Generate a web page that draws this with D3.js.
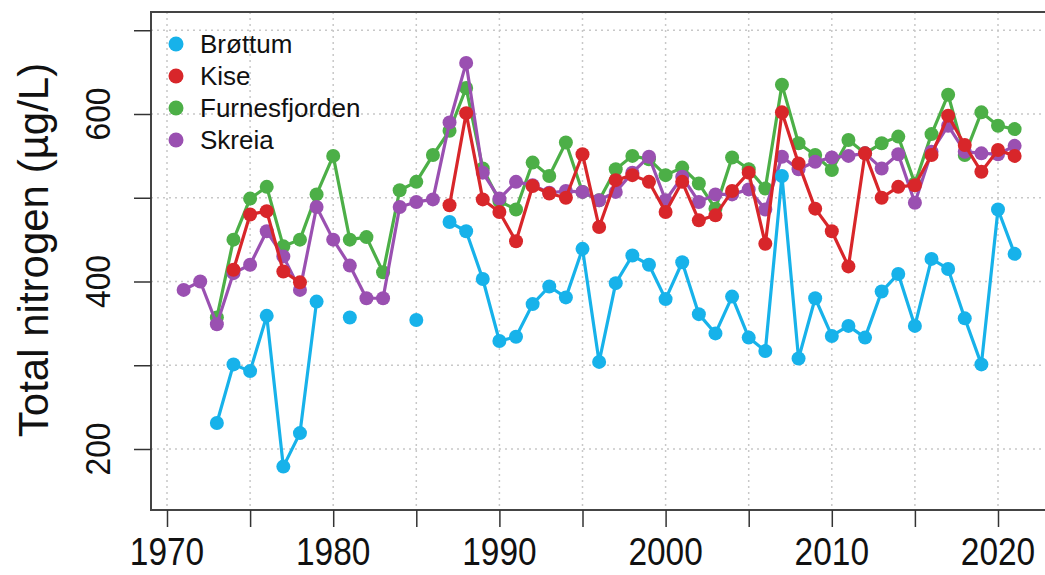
<!DOCTYPE html>
<html>
<head>
<meta charset="utf-8">
<script src="https://cdn.jsdelivr.net/npm/d3@7"></script>
<style>
  body { margin: 0; background: #fff; }
  svg text { font-family: "Liberation Sans", Arial, sans-serif; fill: #111; }
</style>
</head>
<body>
<svg width="1045" height="575"></svg>
<script>
// years 1970..2021, null = no sample
const years = d3.range(1970, 2022);

const brottum = [null, null, null, 231, 301, 293, 359, 179, 219, 376,
  null, 357, null, null, null, 354, null, 471, 460, 403,
  329, 334, 373, 394, 381, 439, 304, 398, 431, 420,
  379, 423, 361, 338, 382, 333, 317, 526, 308, 380,
  335, 347, 333, 388, 409, 347, 427, 415, 356, 301,
  486, 433];

const kise = [null, null, null, null, 414, 480, 484, 412, 399, null,
  null, null, null, null, null, null, null, 491, 601, 498,
  483, 448, 514, 505, 500, 552, 465, 521, 527, 519,
  483, 519, 473, 479, 508, 530, 445, 602, 541, 487,
  460, 418, 553, 500, 513, 515, 551, 598, 563, 531,
  557, 550];

const furnes = [null, null, null, 357, 450, 499, 513, 442, 450, 504,
  550, 450, 453, 411, 509, 519, 551, 580, 631, 535,
  496, 486, 542, 526, 566, 507, 497, 534, 550, 546,
  527, 536, 517, 487, 548, 534, 511, 635, 565, 551,
  533, 569, 553, 565, 573, 517, 576, 623, 551, 602,
  586, 582];

const skreia = [null, 390, 400, 349, 410, 420, 460, 430, 390, 489,
  450, 419, 380, 380, 489, 495, 498, 590, 661, 530,
  499, 519, 515, 506, 508, 507, 497, 507, 530, 549,
  497, 525, 495, 504, 504, 510, 486, 549, 534, 543,
  548, 550, 553, 535, 552, 494, 555, 586, 555, 553,
  552, 562];

const seriesNames = ["Brøttum", "Kise", "Furnesfjorden", "Skreia"];
const seriesColors = ["#17b2ea", "#d8262a", "#4caf47", "#9a50b1"];
const seriesValues = [brottum, kise, furnes, skreia];
const drawOrder = [2, 3, 1, 0];

const xTicks = d3.range(1970, 2026, 5);
const xLabels = [1970, 1980, 1990, 2000, 2010, 2020];
const yTicks = [200, 300, 400, 500, 600, 700];
const yLabels = [200, 400, 600];

const svg = d3.select("svg");
const box = { left: 151, top: 12, right: 1060, bottom: 510 };

const x = d3.scaleLinear().domain([1970, 2020]).range([167, 998]);
const y = d3.scaleLinear().domain([200, 600]).range([449, 114]);

// grid
svg.append("g")
  .selectAll("line")
  .data(xTicks)
  .join("line")
  .attr("x1", d => x(d)).attr("x2", d => x(d))
  .attr("y1", box.top).attr("y2", box.bottom)
  .attr("stroke", "#c8c8c8").attr("stroke-width", 1.5)
  .attr("stroke-dasharray", "2,4");

svg.append("g")
  .selectAll("line")
  .data(yTicks)
  .join("line")
  .attr("x1", box.left).attr("x2", box.right)
  .attr("y1", d => y(d)).attr("y2", d => y(d))
  .attr("stroke", "#c8c8c8").attr("stroke-width", 1.5)
  .attr("stroke-dasharray", "2,4");

// series
const line = d3.line()
  .defined(d => d.v != null)
  .x(d => x(d.year))
  .y(d => y(d.v));

drawOrder.forEach(i => {
  const pts = years.map((yr, k) => ({ year: yr, v: seriesValues[i][k] }));
  const g = svg.append("g");
  g.append("path")
    .datum(pts)
    .attr("d", line)
    .attr("fill", "none")
    .attr("stroke", seriesColors[i])
    .attr("stroke-width", 3.2)
    .attr("stroke-linejoin", "round");
  g.selectAll("circle")
    .data(pts.filter(d => d.v != null))
    .join("circle")
    .attr("cx", d => x(d.year))
    .attr("cy", d => y(d.v))
    .attr("r", 7)
    .attr("fill", seriesColors[i]);
});

// box
svg.append("path")
  .attr("d", `M${box.right},${box.top}H${box.left}V${box.bottom}H${box.right}`)
  .attr("fill", "none")
  .attr("stroke", "#444")
  .attr("stroke-width", 2);

// axes
const xAxis = svg.append("g")
  .attr("transform", `translate(0,${box.bottom})`)
  .call(d3.axisBottom(x).tickValues(xTicks).tickSize(17).tickFormat(""));
xAxis.select(".domain").remove();
xAxis.selectAll("line").attr("stroke", "#333").attr("stroke-width", 1.5);

svg.append("g")
  .selectAll("text")
  .data(xLabels)
  .join("text")
  .attr("transform", d => `translate(${x(d)},565) scale(0.88,1)`)
  .attr("text-anchor", "middle")
  .style("font-size", "38px")
  .text(d => d);

const yAxis = svg.append("g")
  .attr("transform", `translate(${box.left},0)`)
  .call(d3.axisLeft(y).tickValues(yTicks).tickSize(17).tickFormat(""));
yAxis.select(".domain").remove();
yAxis.selectAll("line").attr("stroke", "#333").attr("stroke-width", 1.5);

svg.append("g")
  .selectAll("text")
  .data(yLabels)
  .join("text")
  .attr("transform", d => `translate(110,${y(d)}) rotate(-90) scale(0.88,1)`)
  .attr("text-anchor", "middle")
  .style("font-size", "36px")
  .text(d => d);

svg.append("text")
  .attr("transform", `translate(48,250) rotate(-90)`)
  .attr("text-anchor", "middle")
  .style("font-size", "42px")
  .text("Total nitrogen (µg/L)");

// legend
const legend = svg.append("g")
  .selectAll("g")
  .data(seriesNames)
  .join("g")
  .attr("transform", (d, i) => `translate(176,${44 + i * 32})`);
legend.append("circle")
  .attr("r", 7.5)
  .attr("fill", (d, i) => seriesColors[i]);
legend.append("text")
  .attr("x", 24)
  .attr("y", 9)
  .style("font-size", "26px")
  .text(d => d);
</script>
</body>
</html>
